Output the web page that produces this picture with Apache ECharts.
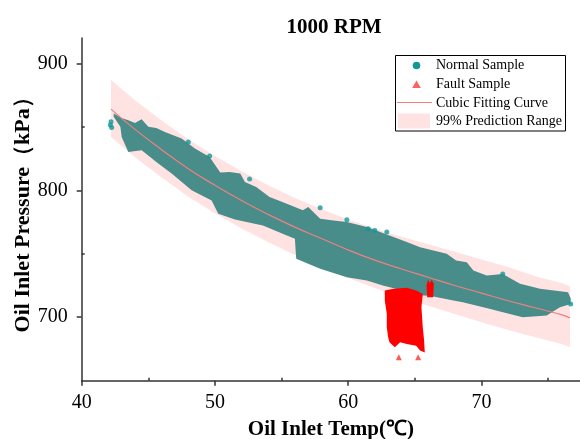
<!DOCTYPE html>
<html>
<head>
<meta charset="utf-8">
<script src="https://cdn.jsdelivr.net/npm/echarts@6/dist/echarts.min.js"></script>
<style>html,body{margin:0;padding:0;background:#fff;}#c{width:580px;height:439px;}</style>
</head>
<body>
<div id="c"></div>
<script>
// ---- data ----
const xTicks = [40, 50, 60, 70];
const xMinorTicks = [45, 55, 65, 75];
const yTicks = [700, 800, 900];
const yMinorTicks = [750, 850];

// cubic fitting curve
const curveX = [42.2, 44, 46, 48, 50, 52, 54, 56, 58, 60, 62, 64, 66, 68, 70, 72, 74, 76, 76.65];
const curveY = [864, 848, 832, 817, 804, 792, 781, 771, 762, 753, 745, 738, 731.5, 725, 719, 713, 707.5, 702, 699.5];
// 99% prediction range
const bandUpper = [887, 871, 855, 840, 827, 815, 804, 794, 785, 777, 770, 763.5, 757.5, 751.5, 745.5, 739.5, 732.5, 727, 724.5];
const bandLower = [842, 826, 810, 795, 782, 770, 759, 749, 740, 731, 723, 716, 709, 702.5, 696, 690, 684.5, 679, 676.5];

// normal sample cloud outline (upper edge and lower edge)
const normalUpperX = [42.4, 43.0, 43.5, 44.0, 44.5, 45.0, 45.6, 46.25, 47.5, 48.5, 49.6, 50.4, 51.1, 51.9, 52.25, 53.1, 54.1, 55.4, 56.6, 57.0, 57.9, 58.9, 59.9, 61.4, 63.1, 64.4, 65.4, 66.4, 67.4, 68.1, 68.9, 69.4, 70.4, 71.6, 72.9, 74.4, 76.5, 76.7];
const normalUpperY = [860.5, 857, 855.2, 853, 856, 850, 849, 846, 840.8, 832.9, 826.3, 814, 814.4, 813.2, 806.5, 802.6, 794.7, 789.5, 784.2, 786.8, 777.6, 776.3, 775, 771, 764.4, 759.2, 755.2, 752.6, 750, 744.7, 743.4, 736.8, 732.9, 734, 726.3, 722.4, 719.7, 715];
const normalLowerX = [42.4, 42.9, 43.0, 43.5, 44.5, 45.6, 46.75, 48.25, 49.75, 50.25, 51.5, 53.6, 55.4, 56.0, 56.1, 57.9, 59.9, 61.4, 62.6, 65.6, 66.1, 67.9, 68.6, 70.6, 71.1, 73.1, 74.9, 75.9, 76.7];
const normalLowerY = [858, 850, 842, 830.2, 831.6, 822.3, 813.2, 800, 792, 781.6, 777, 772.3, 764.4, 761.8, 746, 738.2, 731.5, 728.9, 725, 717.1, 717, 713.2, 711.8, 706.6, 705.3, 700, 701.3, 707.8, 710.5];
// isolated normal samples
const normalDotX = [42.15, 42.2, 42.25, 48.0, 49.6, 52.6, 57.9, 59.9, 61.5, 62.0, 62.9, 71.6, 76.7];
const normalDotY = [851.5, 854, 849.5, 838, 827, 809, 786.3, 776.8, 769.7, 768.4, 767.1, 734, 710.5];

// fault sample clusters (outline) and isolated fault samples
const faultX = [62.75, 63.4, 64.4, 65.1, 65.6, 65.5, 65.6, 65.7, 65.75, 65.4, 65.1, 64.4, 63.9, 63.5, 63.1, 63.0, 62.9, 62.9, 62.75];
const faultY = [721, 722.4, 723.2, 721, 718.4, 707.9, 692, 681.6, 672.3, 673.7, 677.6, 679, 680.2, 676.3, 680.2, 684.2, 692, 702.6, 713.2];
const fault2X = [65.93, 65.88, 66.0, 66.13, 66.26, 66.43, 66.38];
const fault2Y = [715.7, 725, 729.5, 726.8, 729.5, 726.3, 715.7];
const faultDotX = [63.8, 65.25];
const faultDotY = [668.4, 668.4];

// ---- styling ----
const FONT = 'Liberation Serif';
const TEAL = '#488D89';
const TEAL_DOT = '#129797';
const RED = '#FF0000';
const PINK_LINE = '#F08080';
const PINK_FILL = '#FFE3E3';

function polySeries(name, xs, ys, color, z) {
  return {
    type: 'custom', name: name, z: z, silent: true, data: [[xs[0], ys[0]]],
    renderItem: function (params, api) {
      const pts = xs.map(function (x, i) { return api.coord([x, ys[i]]); });
      return { type: 'polygon', shape: { points: pts }, style: { fill: color } };
    }
  };
}
const bandPX = curveX.concat(curveX.slice().reverse());
const bandPY = bandUpper.concat(bandLower.slice().reverse());
const normPX = normalUpperX.concat(normalLowerX.slice().reverse());
const normPY = normalUpperY.concat(normalLowerY.slice().reverse());

const axisLineStyle = { color: '#333', width: 1.5 };

const chart = echarts.init(document.getElementById('c'), null, { renderer: 'canvas' });
chart.setOption({
  animation: false,
  backgroundColor: '#fff',
  title: {
    text: '1000 RPM', left: 329, top: 12, textAlign: 'center',
    textStyle: { fontFamily: FONT, fontWeight: 'bold', fontSize: 21, color: '#000' }
  },
  grid: { left: 81.7, right: 0, top: 38, bottom: 58.3, containLabel: false, outerBoundsMode: 'none' },
  xAxis: [{
    type: 'value', min: 40, max: 77.4, interval: 10,
    name: 'Oil Inlet Temp(℃)', nameLocation: 'middle', nameGap: 38, nameMoveOverlap: false,
    nameTextStyle: { fontFamily: FONT, fontWeight: 'bold', fontSize: 21, color: '#000' },
    axisLine: { lineStyle: axisLineStyle },
    axisTick: { length: 5, customValues: xTicks, lineStyle: axisLineStyle },
    axisLabel: { customValues: xTicks, margin: 12, fontFamily: FONT, fontSize: 20, color: '#000' },
    splitLine: { show: false }
  }, {
    type: 'value', min: 40, max: 77.4, position: 'bottom',
    axisLine: { show: false }, axisLabel: { show: false }, splitLine: { show: false },
    axisTick: { inside: true, length: 3, customValues: xMinorTicks, lineStyle: axisLineStyle }
  }],
  yAxis: [{
    type: 'value', min: 650, max: 920, interval: 50,
    name: 'Oil Inlet Pressure（kPa）', nameLocation: 'middle', nameGap: 47, nameMoveOverlap: false,
    nameTextStyle: { fontFamily: FONT, fontWeight: 'bold', fontSize: 22, color: '#000' },
    axisLine: { show: true, lineStyle: axisLineStyle },
    axisTick: { show: true, length: 5, customValues: yTicks, lineStyle: axisLineStyle },
    axisLabel: { customValues: yTicks, margin: 14, fontFamily: FONT, fontSize: 20, color: '#000' },
    splitLine: { show: false }
  }, {
    type: 'value', min: 650, max: 920, position: 'left',
    axisLine: { show: false }, axisLabel: { show: false }, splitLine: { show: false },
    axisTick: { show: true, inside: true, length: 3, customValues: yMinorTicks, lineStyle: axisLineStyle }
  }],
  series: [
    polySeries('99% Prediction Range', bandPX, bandPY, PINK_FILL, 1),
    polySeries('Normal Sample', normPX, normPY, TEAL, 2),
    {
      type: 'scatter', name: 'Normal Sample', z: 3, symbol: 'circle', symbolSize: 5,
      itemStyle: { color: TEAL_DOT },
      data: normalDotX.map(function (x, i) { return [x, normalDotY[i]]; })
    },
    polySeries('Fault Sample', faultX, faultY, RED, 4),
    polySeries('Fault Sample', fault2X, fault2Y, RED, 4),
    {
      type: 'scatter', name: 'Fault Sample', z: 4, symbol: 'triangle', symbolSize: 6,
      itemStyle: { color: '#FF3030' },
      data: faultDotX.map(function (x, i) { return [x, faultDotY[i]]; })
    },
    {
      type: 'line', name: 'Cubic Fitting Curve', z: 5, smooth: true, symbol: 'none',
      lineStyle: { color: PINK_LINE, width: 1.2 },
      data: curveX.map(function (x, i) { return [x, curveY[i]]; })
    }
  ],
  graphic: [
    { type: 'rect', z: 100, shape: { x: 395.5, y: 55.5, width: 170, height: 75.5 }, style: { fill: '#fff', stroke: '#000', lineWidth: 1 } },
    { type: 'circle', z: 101, shape: { cx: 416.5, cy: 65.5, r: 3.8 }, style: { fill: TEAL_DOT } },
    { type: 'polygon', z: 101, shape: { points: [[416.5, 80.5], [420.8, 88], [412.2, 88]] }, style: { fill: '#FF6060' } },
    { type: 'line', z: 101, shape: { x1: 397, y1: 102.5, x2: 432, y2: 102.5 }, style: { stroke: PINK_LINE, lineWidth: 1 } },
    { type: 'rect', z: 101, shape: { x: 398, y: 113.5, width: 32, height: 15 }, style: { fill: PINK_FILL } },
    { type: 'text', z: 101, x: 436, y: 65.5, style: { text: 'Normal Sample', font: '14px "Liberation Serif"', fill: '#000', verticalAlign: 'middle' } },
    { type: 'text', z: 101, x: 436, y: 84.5, style: { text: 'Fault Sample', font: '14px "Liberation Serif"', fill: '#000', verticalAlign: 'middle' } },
    { type: 'text', z: 101, x: 436, y: 103, style: { text: 'Cubic Fitting Curve', font: '14px "Liberation Serif"', fill: '#000', verticalAlign: 'middle' } },
    { type: 'text', z: 101, x: 436, y: 121.5, style: { text: '99% Prediction Range', font: '14px "Liberation Serif"', fill: '#000', verticalAlign: 'middle' } }
  ]
});
</script>
</body>
</html>
